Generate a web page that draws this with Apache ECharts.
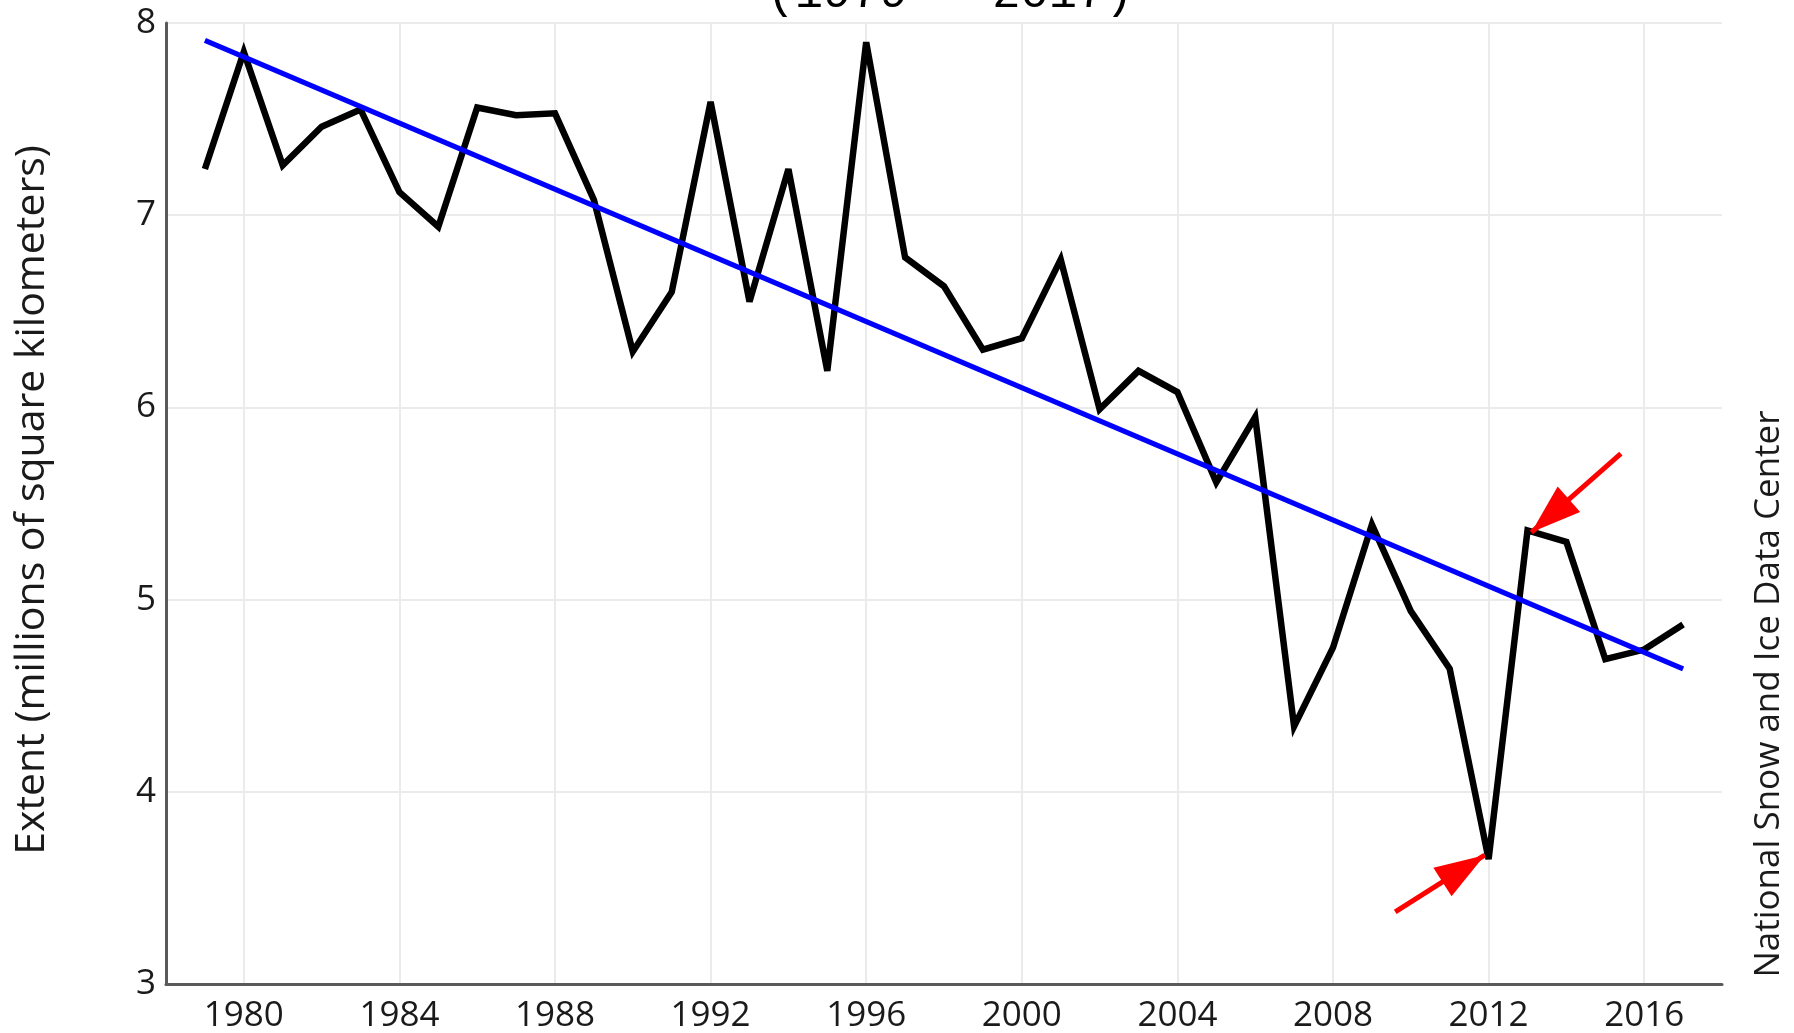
<!DOCTYPE html>
<html>
<head>
<meta charset="utf-8">
<script src="https://cdn.jsdelivr.net/npm/echarts@6/dist/echarts.min.js"></script>
<style>
  html, body { margin: 0; padding: 0; background: #ffffff; }
  #chart { width: 1794px; height: 1033px; }
</style>
</head>
<body>
<div id="chart"></div>
<script>
// September Arctic sea ice extent, millions of km²
const years = [1979, 1980, 1981, 1982, 1983, 1984, 1985, 1986, 1987, 1988,
               1989, 1990, 1991, 1992, 1993, 1994, 1995, 1996, 1997, 1998,
               1999, 2000, 2001, 2002, 2003, 2004, 2005, 2006, 2007, 2008,
               2009, 2010, 2011, 2012, 2013, 2014, 2015, 2016, 2017];
const extent = [7.24, 7.85, 7.26, 7.46, 7.55, 7.12, 6.94, 7.56, 7.52, 7.53,
                7.08, 6.29, 6.60, 7.59, 6.55, 7.24, 6.19, 7.90, 6.78, 6.63,
                6.30, 6.36, 6.77, 5.99, 6.19, 6.08, 5.61, 5.95, 4.34, 4.75,
                5.39, 4.94, 4.64, 3.65, 5.36, 5.30, 4.69, 4.74, 4.87];

// Linear trend, end points
const trendYears = [1979, 2017];
const trendValues = [7.91, 4.64];

// Axis ticks
const xTicks = [1980, 1984, 1988, 1992, 1996, 2000, 2004, 2008, 2012, 2016];
const xRange = [1978, 2018];
const yRange = [3, 8];
const yStep = 1;

// Annotation arrows (data units): tails and tips
const arrowTails = [[2015.4, 5.76], [2009.6, 3.375]];
const arrowTips = [[2013.1, 5.35], [2011.9, 3.67]];

const titleText = '(1979 - 2017)';
const yTitle = 'Extent (millions of square kilometers)';
const sourceText = 'National Snow and Ice Data Center';

const chart = echarts.init(document.getElementById('chart'), null, { renderer: 'canvas' });

const labelFont = { fontFamily: 'Open Sans', fontSize: 35, color: '#1a1a1a' };

const option = {
  backgroundColor: '#ffffff',
  animation: false,
  title: {
    text: titleText,
    left: 945,
    textAlign: 'center',
    top: -34,
    textStyle: { fontFamily: 'Liberation Mono', fontSize: 47, fontWeight: 'normal', color: '#000000' }
  },
  grid: { left: 166, right: 72, top: 23, bottom: 49, containLabel: false, outerBoundsMode: 'none' },
  xAxis: {
    type: 'value',
    min: xRange[0],
    max: xRange[1],
    axisLine: { show: true, lineStyle: { color: '#5a5a5a', width: 3 } },
    axisTick: { show: false, customValues: xTicks },
    axisLabel: Object.assign({ customValues: xTicks, margin: 15, formatter: v => String(v) }, labelFont),
    splitLine: { show: true, lineStyle: { color: '#ebebeb', width: 2 } }
  },
  yAxis: {
    type: 'value',
    min: yRange[0],
    max: yRange[1],
    interval: yStep,
    axisLine: { show: true, lineStyle: { color: '#5a5a5a', width: 3 } },
    axisTick: { show: false },
    axisLabel: Object.assign({ margin: 10 }, labelFont),
    splitLine: { show: true, lineStyle: { color: '#ebebeb', width: 2 } }
  },
  graphic: [
    {
      type: 'text',
      x: 32, y: 500,
      rotation: Math.PI / 2,
      style: {
        text: yTitle,
        fontFamily: 'Open Sans', fontSize: 41, fill: '#1a1a1a',
        textAlign: 'center', textVerticalAlign: 'middle'
      }
    },
    {
      type: 'text',
      x: 1769, y: 694,
      rotation: Math.PI / 2,
      style: {
        text: sourceText,
        fontFamily: 'Open Sans', fontSize: 35, fill: '#1a1a1a',
        textAlign: 'center', textVerticalAlign: 'middle'
      }
    }
  ],
  series: [
    {
      name: 'Extent',
      type: 'line',
      data: years.map((y, i) => [y, extent[i]]),
      symbol: 'none',
      lineStyle: { color: '#000000', width: 6.5, join: 'miter', miterLimit: 4 },
      z: 2
    },
    {
      name: 'Trend',
      type: 'line',
      data: trendYears.map((y, i) => [y, trendValues[i]]),
      symbol: 'none',
      lineStyle: { color: '#0000ff', width: 5.2 },
      z: 3,
      markLine: {
        silent: true,
        symbol: ['none', 'triangle'],
        label: { show: false },
        lineStyle: { color: '#ff0000', width: 5, type: 'solid' },
        data: arrowTails.map((t, i) => [
          { coord: t, symbol: 'none' },
          { coord: arrowTips[i], symbol: 'triangle', symbolSize: [34, 50], symbolOffset: [0, '50%'] }
        ]),
        z: 4
      }
    }
  ]
};

chart.setOption(option);
</script>
</body>
</html>
